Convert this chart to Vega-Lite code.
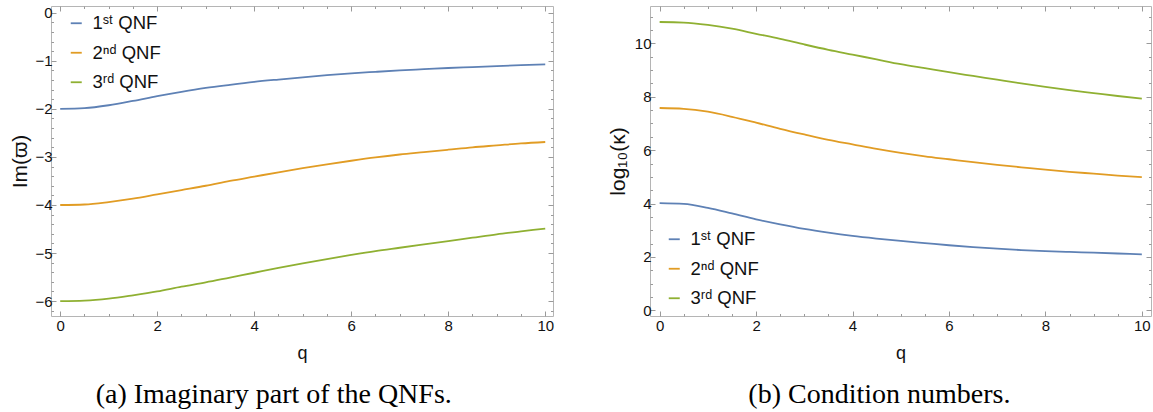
{
  "$schema": "https://vega.github.io/schema/vega-lite/v6.json",
  "padding": {"left": 9, "top": 5, "right": 0, "bottom": 0},
  "background": "white",
  "config": {
    "view": {"stroke": "#b5b5b5", "strokeWidth": 1},
    "axis": {
      "domain": false,
      "grid": false,
      "labelFont": "Liberation Sans",
      "labelFontSize": 15,
      "labelColor": "#111111",
      "labelFlush": false,
      "labelOverlap": false,
      "tickColor": "#9a9a9a",
      "tickWidth": 1,
      "titleFont": "Liberation Sans",
      "titleFontWeight": "normal",
      "titleColor": "#111111"
    },
    "legend": {
      "labelFont": "Liberation Sans, DejaVu Sans",
      "labelFontSize": 18.5,
      "labelColor": "#111111",
      "symbolType": "stroke",
      "symbolStrokeWidth": 1.8,
      "symbolSize": 121,
      "rowPadding": 10.5,
      "padding": 0,
      "labelOffset": 7
    },
    "title": {
      "font": "Liberation Serif",
      "fontSize": 28,
      "fontWeight": "normal",
      "color": "#000000"
    }
  },
  "datasets": {
    "imag": [
      {"q": 0, "v": -2.0, "s": "1ˢᵗ QNF"}, {"q": 0.5, "v": -1.985, "s": "1ˢᵗ QNF"}, {"q": 1, "v": -1.925, "s": "1ˢᵗ QNF"}, {"q": 1.5, "v": -1.835, "s": "1ˢᵗ QNF"}, {"q": 2, "v": -1.735, "s": "1ˢᵗ QNF"}, {"q": 2.5, "v": -1.645, "s": "1ˢᵗ QNF"}, {"q": 3, "v": -1.565, "s": "1ˢᵗ QNF"}, {"q": 3.5, "v": -1.5, "s": "1ˢᵗ QNF"}, {"q": 4, "v": -1.44, "s": "1ˢᵗ QNF"}, {"q": 4.5, "v": -1.39, "s": "1ˢᵗ QNF"}, {"q": 5, "v": -1.343, "s": "1ˢᵗ QNF"}, {"q": 5.5, "v": -1.3, "s": "1ˢᵗ QNF"}, {"q": 6, "v": -1.262, "s": "1ˢᵗ QNF"}, {"q": 6.5, "v": -1.23, "s": "1ˢᵗ QNF"}, {"q": 7, "v": -1.2, "s": "1ˢᵗ QNF"}, {"q": 7.5, "v": -1.175, "s": "1ˢᵗ QNF"}, {"q": 8, "v": -1.15, "s": "1ˢᵗ QNF"}, {"q": 8.5, "v": -1.13, "s": "1ˢᵗ QNF"}, {"q": 9, "v": -1.11, "s": "1ˢᵗ QNF"}, {"q": 9.5, "v": -1.092, "s": "1ˢᵗ QNF"}, {"q": 10, "v": -1.075, "s": "1ˢᵗ QNF"},
      {"q": 0, "v": -4.0, "s": "2ⁿᵈ QNF"}, {"q": 0.5, "v": -3.99, "s": "2ⁿᵈ QNF"}, {"q": 1, "v": -3.94, "s": "2ⁿᵈ QNF"}, {"q": 1.5, "v": -3.87, "s": "2ⁿᵈ QNF"}, {"q": 2, "v": -3.78, "s": "2ⁿᵈ QNF"}, {"q": 2.5, "v": -3.69, "s": "2ⁿᵈ QNF"}, {"q": 3, "v": -3.6, "s": "2ⁿᵈ QNF"}, {"q": 3.5, "v": -3.5, "s": "2ⁿᵈ QNF"}, {"q": 4, "v": -3.41, "s": "2ⁿᵈ QNF"}, {"q": 4.5, "v": -3.32, "s": "2ⁿᵈ QNF"}, {"q": 5, "v": -3.235, "s": "2ⁿᵈ QNF"}, {"q": 5.5, "v": -3.155, "s": "2ⁿᵈ QNF"}, {"q": 6, "v": -3.08, "s": "2ⁿᵈ QNF"}, {"q": 6.5, "v": -3.01, "s": "2ⁿᵈ QNF"}, {"q": 7, "v": -2.95, "s": "2ⁿᵈ QNF"}, {"q": 7.5, "v": -2.9, "s": "2ⁿᵈ QNF"}, {"q": 8, "v": -2.85, "s": "2ⁿᵈ QNF"}, {"q": 8.5, "v": -2.8, "s": "2ⁿᵈ QNF"}, {"q": 9, "v": -2.76, "s": "2ⁿᵈ QNF"}, {"q": 9.5, "v": -2.72, "s": "2ⁿᵈ QNF"}, {"q": 10, "v": -2.69, "s": "2ⁿᵈ QNF"},
      {"q": 0, "v": -6.0, "s": "3ʳᵈ QNF"}, {"q": 0.5, "v": -5.99, "s": "3ʳᵈ QNF"}, {"q": 1, "v": -5.95, "s": "3ʳᵈ QNF"}, {"q": 1.5, "v": -5.88, "s": "3ʳᵈ QNF"}, {"q": 2, "v": -5.8, "s": "3ʳᵈ QNF"}, {"q": 2.5, "v": -5.7, "s": "3ʳᵈ QNF"}, {"q": 3, "v": -5.61, "s": "3ʳᵈ QNF"}, {"q": 3.5, "v": -5.51, "s": "3ʳᵈ QNF"}, {"q": 4, "v": -5.41, "s": "3ʳᵈ QNF"}, {"q": 4.5, "v": -5.31, "s": "3ʳᵈ QNF"}, {"q": 5, "v": -5.215, "s": "3ʳᵈ QNF"}, {"q": 5.5, "v": -5.125, "s": "3ʳᵈ QNF"}, {"q": 6, "v": -5.04, "s": "3ʳᵈ QNF"}, {"q": 6.5, "v": -4.96, "s": "3ʳᵈ QNF"}, {"q": 7, "v": -4.89, "s": "3ʳᵈ QNF"}, {"q": 7.5, "v": -4.82, "s": "3ʳᵈ QNF"}, {"q": 8, "v": -4.75, "s": "3ʳᵈ QNF"}, {"q": 8.5, "v": -4.68, "s": "3ʳᵈ QNF"}, {"q": 9, "v": -4.61, "s": "3ʳᵈ QNF"}, {"q": 9.5, "v": -4.55, "s": "3ʳᵈ QNF"}, {"q": 10, "v": -4.49, "s": "3ʳᵈ QNF"}
    ],
    "cond": [
      {"q": 0, "v": 4.02, "s": "1ˢᵗ QNF"}, {"q": 0.5, "v": 3.99, "s": "1ˢᵗ QNF"}, {"q": 1, "v": 3.84, "s": "1ˢᵗ QNF"}, {"q": 1.5, "v": 3.63, "s": "1ˢᵗ QNF"}, {"q": 2, "v": 3.41, "s": "1ˢᵗ QNF"}, {"q": 2.5, "v": 3.22, "s": "1ˢᵗ QNF"}, {"q": 3, "v": 3.05, "s": "1ˢᵗ QNF"}, {"q": 3.5, "v": 2.91, "s": "1ˢᵗ QNF"}, {"q": 4, "v": 2.79, "s": "1ˢᵗ QNF"}, {"q": 4.5, "v": 2.69, "s": "1ˢᵗ QNF"}, {"q": 5, "v": 2.6, "s": "1ˢᵗ QNF"}, {"q": 5.5, "v": 2.52, "s": "1ˢᵗ QNF"}, {"q": 6, "v": 2.44, "s": "1ˢᵗ QNF"}, {"q": 6.5, "v": 2.37, "s": "1ˢᵗ QNF"}, {"q": 7, "v": 2.31, "s": "1ˢᵗ QNF"}, {"q": 7.5, "v": 2.26, "s": "1ˢᵗ QNF"}, {"q": 8, "v": 2.22, "s": "1ˢᵗ QNF"}, {"q": 8.5, "v": 2.19, "s": "1ˢᵗ QNF"}, {"q": 9, "v": 2.16, "s": "1ˢᵗ QNF"}, {"q": 9.5, "v": 2.13, "s": "1ˢᵗ QNF"}, {"q": 10, "v": 2.1, "s": "1ˢᵗ QNF"},
      {"q": 0, "v": 7.58, "s": "2ⁿᵈ QNF"}, {"q": 0.5, "v": 7.55, "s": "2ⁿᵈ QNF"}, {"q": 1, "v": 7.44, "s": "2ⁿᵈ QNF"}, {"q": 1.5, "v": 7.25, "s": "2ⁿᵈ QNF"}, {"q": 2, "v": 7.03, "s": "2ⁿᵈ QNF"}, {"q": 2.5, "v": 6.8, "s": "2ⁿᵈ QNF"}, {"q": 3, "v": 6.59, "s": "2ⁿᵈ QNF"}, {"q": 3.5, "v": 6.39, "s": "2ⁿᵈ QNF"}, {"q": 4, "v": 6.22, "s": "2ⁿᵈ QNF"}, {"q": 4.5, "v": 6.05, "s": "2ⁿᵈ QNF"}, {"q": 5, "v": 5.9, "s": "2ⁿᵈ QNF"}, {"q": 5.5, "v": 5.77, "s": "2ⁿᵈ QNF"}, {"q": 6, "v": 5.66, "s": "2ⁿᵈ QNF"}, {"q": 6.5, "v": 5.55, "s": "2ⁿᵈ QNF"}, {"q": 7, "v": 5.45, "s": "2ⁿᵈ QNF"}, {"q": 7.5, "v": 5.36, "s": "2ⁿᵈ QNF"}, {"q": 8, "v": 5.27, "s": "2ⁿᵈ QNF"}, {"q": 8.5, "v": 5.19, "s": "2ⁿᵈ QNF"}, {"q": 9, "v": 5.12, "s": "2ⁿᵈ QNF"}, {"q": 9.5, "v": 5.05, "s": "2ⁿᵈ QNF"}, {"q": 10, "v": 4.99, "s": "2ⁿᵈ QNF"},
      {"q": 0, "v": 10.8, "s": "3ʳᵈ QNF"}, {"q": 0.5, "v": 10.78, "s": "3ʳᵈ QNF"}, {"q": 1, "v": 10.69, "s": "3ʳᵈ QNF"}, {"q": 1.5, "v": 10.55, "s": "3ʳᵈ QNF"}, {"q": 2, "v": 10.36, "s": "3ʳᵈ QNF"}, {"q": 2.5, "v": 10.17, "s": "3ʳᵈ QNF"}, {"q": 3, "v": 9.96, "s": "3ʳᵈ QNF"}, {"q": 3.5, "v": 9.76, "s": "3ʳᵈ QNF"}, {"q": 4, "v": 9.58, "s": "3ʳᵈ QNF"}, {"q": 4.5, "v": 9.4, "s": "3ʳᵈ QNF"}, {"q": 5, "v": 9.22, "s": "3ʳᵈ QNF"}, {"q": 5.5, "v": 9.07, "s": "3ʳᵈ QNF"}, {"q": 6, "v": 8.92, "s": "3ʳᵈ QNF"}, {"q": 6.5, "v": 8.78, "s": "3ʳᵈ QNF"}, {"q": 7, "v": 8.64, "s": "3ʳᵈ QNF"}, {"q": 7.5, "v": 8.5, "s": "3ʳᵈ QNF"}, {"q": 8, "v": 8.37, "s": "3ʳᵈ QNF"}, {"q": 8.5, "v": 8.25, "s": "3ʳᵈ QNF"}, {"q": 9, "v": 8.14, "s": "3ʳᵈ QNF"}, {"q": 9.5, "v": 8.03, "s": "3ʳᵈ QNF"}, {"q": 10, "v": 7.93, "s": "3ʳᵈ QNF"}
    ]
  },
  "spacing": 51,
  "resolve": {"scale": {"color": "independent"}, "legend": {"color": "independent"}},
  "hconcat": [
    {
      "title": {"text": "(a) Imaginary part of the QNFs.", "orient": "bottom", "frame": "bounds", "anchor": "middle", "dx": -8, "offset": 18},
      "width": 502,
      "height": 310,
      "data": {"name": "imag"},
      "layer": [
        {
          "mark": {"type": "line", "strokeWidth": 1.8, "interpolate": "monotone"},
          "encoding": {
            "x": {"field": "q", "type": "quantitative",
              "scale": {"domain": [-0.19, 10.16], "nice": false, "zero": false},
              "axis": {"orient": "bottom", "title": "q", "titleFontSize": 18, "titlePadding": 9, "labelPadding": 7,
                "values": [0,0.5,1,1.5,2,2.5,3,3.5,4,4.5,5,5.5,6,6.5,7,7.5,8,8.5,9,9.5,10],
                "labelExpr": "datum.value % 2 === 0 ? format(datum.value, 'd') : ''",
                "tickSize": {"condition": {"test": "datum.value % 2 === 0", "value": -5}, "value": -2.5}}},
            "y": {"field": "v", "type": "quantitative",
              "scale": {"domain": [-6.31, 0.14], "nice": false, "zero": false},
              "axis": {"orient": "left", "title": "Im(ϖ)", "titleFontSize": 21, "titlePadding": 4, "labelPadding": 4,
                "values": [-6.2,-6,-5.8,-5.6,-5.4,-5.2,-5,-4.8,-4.6,-4.4,-4.2,-4,-3.8,-3.6,-3.4,-3.2,-3,-2.8,-2.6,-2.4,-2.2,-2,-1.8,-1.6,-1.4,-1.2,-1,-0.8,-0.6,-0.4,-0.2,0],
                "labelExpr": "abs(datum.value - round(datum.value)) < 0.001 ? format(datum.value, 'd') : ''",
                "tickSize": {"condition": {"test": "abs(datum.value - round(datum.value)) < 0.001", "value": -5}, "value": -2.5}}},
            "color": {"field": "s", "type": "nominal",
              "scale": {"domain": ["1ˢᵗ QNF", "2ⁿᵈ QNF", "3ʳᵈ QNF"], "range": ["#5E81B5", "#E19C24", "#8FB032"]},
              "legend": {"title": null, "orient": "none", "legendX": 16, "legendY": 8}}
          }
        },
        {
          "mark": {"type": "point", "opacity": 0, "size": 1},
          "encoding": {
            "x": {"field": "q", "type": "quantitative",
              "axis": {"orient": "top", "title": null, "labels": false,
                "values": [0,0.5,1,1.5,2,2.5,3,3.5,4,4.5,5,5.5,6,6.5,7,7.5,8,8.5,9,9.5,10],
                "tickSize": {"condition": {"test": "datum.value % 2 === 0", "value": -5}, "value": -2.5}}},
            "y": {"field": "v", "type": "quantitative",
              "axis": {"orient": "right", "title": null, "labels": false,
                "values": [-6.2,-6,-5.8,-5.6,-5.4,-5.2,-5,-4.8,-4.6,-4.4,-4.2,-4,-3.8,-3.6,-3.4,-3.2,-3,-2.8,-2.6,-2.4,-2.2,-2,-1.8,-1.6,-1.4,-1.2,-1,-0.8,-0.6,-0.4,-0.2,0],
                "tickSize": {"condition": {"test": "abs(datum.value - round(datum.value)) < 0.001", "value": -5}, "value": -2.5}}}
          }
        }
      ],
      "resolve": {"axis": {"x": "independent", "y": "independent"}}
    },
    {
      "title": {"text": "(b) Condition numbers.", "orient": "bottom", "frame": "bounds", "anchor": "middle", "offset": 18},
      "width": 501,
      "height": 310,
      "data": {"name": "cond"},
      "layer": [
        {
          "mark": {"type": "line", "strokeWidth": 1.8, "interpolate": "monotone"},
          "encoding": {
            "x": {"field": "q", "type": "quantitative",
              "scale": {"domain": [-0.2, 10.19], "nice": false, "zero": false},
              "axis": {"orient": "bottom", "title": "q", "titleFontSize": 18, "titlePadding": 9, "labelPadding": 7,
                "values": [0,0.5,1,1.5,2,2.5,3,3.5,4,4.5,5,5.5,6,6.5,7,7.5,8,8.5,9,9.5,10],
                "labelExpr": "datum.value % 2 === 0 ? format(datum.value, 'd') : ''",
                "tickSize": {"condition": {"test": "datum.value % 2 === 0", "value": -5}, "value": -2.5}}},
            "y": {"field": "v", "type": "quantitative",
              "scale": {"domain": [-0.21, 11.4], "nice": false, "zero": false},
              "axis": {"orient": "left", "title": "log₁₀(κ)", "titleFontSize": 21, "titlePadding": 6, "labelPadding": 4,
                "values": [0,0.5,1,1.5,2,2.5,3,3.5,4,4.5,5,5.5,6,6.5,7,7.5,8,8.5,9,9.5,10,10.5,11],
                "labelExpr": "datum.value % 2 === 0 ? format(datum.value, 'd') : ''",
                "tickSize": {"condition": {"test": "datum.value % 2 === 0", "value": -5}, "value": -2.5}}},
            "color": {"field": "s", "type": "nominal",
              "scale": {"domain": ["1ˢᵗ QNF", "2ⁿᵈ QNF", "3ʳᵈ QNF"], "range": ["#5E81B5", "#E19C24", "#8FB032"]},
              "legend": {"title": null, "orient": "none", "legendX": 15, "legendY": 224}}
          }
        },
        {
          "mark": {"type": "point", "opacity": 0, "size": 1},
          "encoding": {
            "x": {"field": "q", "type": "quantitative",
              "axis": {"orient": "top", "title": null, "labels": false,
                "values": [0,0.5,1,1.5,2,2.5,3,3.5,4,4.5,5,5.5,6,6.5,7,7.5,8,8.5,9,9.5,10],
                "tickSize": {"condition": {"test": "datum.value % 2 === 0", "value": -5}, "value": -2.5}}},
            "y": {"field": "v", "type": "quantitative",
              "axis": {"orient": "right", "title": null, "labels": false,
                "values": [0,0.5,1,1.5,2,2.5,3,3.5,4,4.5,5,5.5,6,6.5,7,7.5,8,8.5,9,9.5,10,10.5,11],
                "tickSize": {"condition": {"test": "datum.value % 2 === 0", "value": -5}, "value": -2.5}}}
          }
        }
      ],
      "resolve": {"axis": {"x": "independent", "y": "independent"}}
    }
  ]
}
